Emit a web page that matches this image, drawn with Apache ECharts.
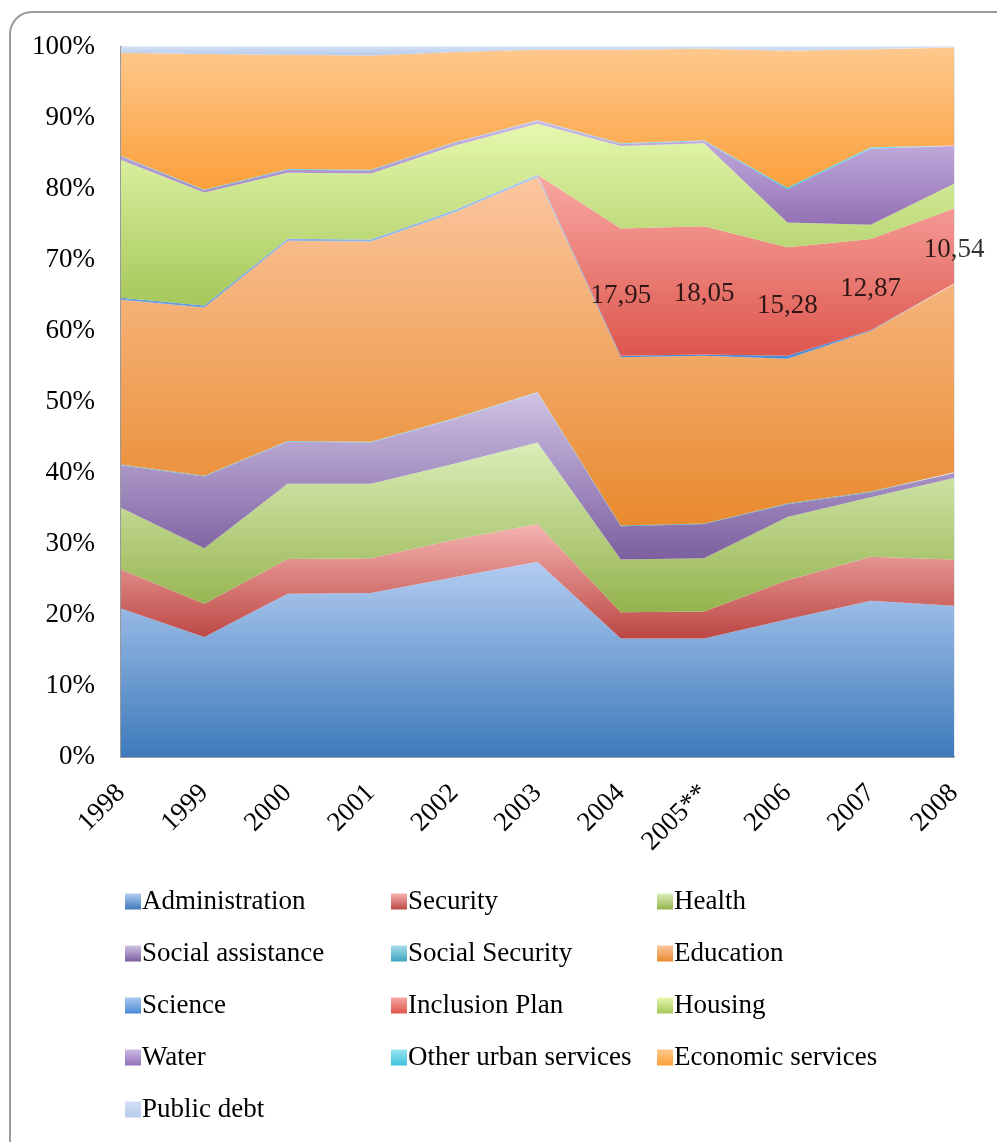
<!DOCTYPE html>
<html>
<head>
<meta charset="utf-8">
<script src="https://cdn.jsdelivr.net/npm/echarts@6/dist/echarts.min.js"></script>
<style>
  html, body { margin: 0; padding: 0; background: #ffffff; }
  #chart { width: 997px; height: 1142px; }
</style>
</head>
<body>
<div id="chart"></div>
<script>
// Budget shares by function, percent of total spending per year
const years = ['1998', '1999', '2000', '2001', '2002', '2003', '2004', '2005**', '2006', '2007', '2008'];

const administration   = [20.9, 16.9, 23.0, 23.1, 25.3, 27.5, 16.7, 16.7, 19.4, 22.0, 21.3];
const security         = [5.5, 4.7, 4.9, 4.9, 5.3, 5.3, 3.7, 3.8, 5.5, 6.2, 6.5];
const health           = [8.7, 7.8, 10.6, 10.5, 10.7, 11.5, 7.4, 7.5, 8.9, 8.4, 11.5];
const socialAssistance = [6.0, 10.1, 5.9, 5.8, 6.3, 7.0, 4.7, 4.8, 1.8, 0.7, 0.7];
const socialSecurity   = [0.1, 0.1, 0.1, 0.1, 0.1, 0.1, 0.1, 0.1, 0.1, 0.1, 0.1];
const education        = [23.2, 23.7, 28.2, 28.2, 29.0, 30.3, 23.7, 23.6, 20.4, 22.6, 26.5];
const science          = [0.3, 0.3, 0.3, 0.3, 0.3, 0.3, 0.2, 0.2, 0.4, 0.1, 0.1];
const inclusionPlan    = [0, 0, 0, 0, 0, 0, 17.95, 18.05, 15.28, 12.87, 10.54];
const housing          = [19.4, 15.9, 9.3, 9.3, 9.1, 7.2, 11.6, 11.7, 3.5, 2.0, 3.5];
const water            = [0.5, 0.3, 0.4, 0.4, 0.4, 0.4, 0.3, 0.3, 4.7, 10.7, 5.3];
const otherUrban       = [0.1, 0.1, 0.1, 0.1, 0.1, 0.1, 0.1, 0.1, 0.2, 0.2, 0.1];
const economicServices = [14.5, 19.1, 16.1, 16.1, 12.7, 9.9, 13.15, 12.9, 19.3, 13.8, 13.76];
const publicDebt       = [0.8, 1.0, 1.1, 1.2, 0.7, 0.4, 0.4, 0.25, 0.52, 0.33, 0.1];

const yTicks = { min: 0, max: 100, interval: 10 };

const FONT = '"Liberation Serif", "DejaVu Serif", serif';

// name, values, gradient top colour, gradient bottom colour
const layers = [
  ['Administration',        administration,   '#B3CCF1', '#3D7ABA'],
  ['Security',              security,         '#F5B3B0', '#BC4744'],
  ['Health',                health,           '#DCEDBA', '#94B34D'],
  ['Social assistance',     socialAssistance, '#CFC2E5', '#7C5F9F'],
  ['Social Security',       socialSecurity,   '#A8DCEA', '#3FA3BD'],
  ['Education',             education,        '#FBC69F', '#E98A2E'],
  ['Science',               science,          '#A8C8F0', '#4A8BD6'],
  ['Inclusion Plan',        inclusionPlan,    '#F8A8A2', '#DE564E'],
  ['Housing',               housing,          '#E6F8AE', '#A5C75A'],
  ['Water',                 water,            '#CCB9E6', '#9271B4'],
  ['Other urban services',  otherUrban,       '#9AE3F2', '#3EC3DD'],
  ['Economic services',     economicServices, '#FEC88D', '#FB9F3A'],
  ['Public debt',           publicDebt,       '#D3E0F5', '#B5CAEC']
];

function grad(top, bottom) {
  return new echarts.graphic.LinearGradient(0, 0, 0, 1, [
    { offset: 0, color: top },
    { offset: 1, color: bottom }
  ]);
}

const areaSeries = layers.map(([name, values, top, bottom]) => ({
  name: name,
  type: 'line',
  stack: 'total',
  data: values,
  symbol: 'none',
  showSymbol: false,
  lineStyle: { width: 0 },
  itemStyle: { color: grad(top, bottom) },
  areaStyle: { color: grad(top, bottom), opacity: 1 },
  emphasis: { disabled: true },
  silent: true
}));

// Value labels for the Inclusion Plan band, placed at the middle of the band
const inclusionIndex = layers.findIndex(l => l[0] === 'Inclusion Plan');
const inclusionLabels = years.map((y, i) => {
  let base = 0;
  for (let k = 0; k < inclusionIndex; k++) base += layers[k][1][i];
  return { value: [y, base + inclusionPlan[i] / 2], raw: inclusionPlan[i] };
}).filter(d => d.raw > 0);

const labelSeries = {
  name: 'labels',
  type: 'scatter',
  data: inclusionLabels,
  symbolSize: 1,
  itemStyle: { color: 'rgba(0,0,0,0)' },
  silent: true,
  z: 10,
  label: {
    show: true,
    position: 'inside',
    offset: [0, 4],
    fontFamily: FONT,
    fontSize: 27,
    color: '#000000',
    formatter: p => p.data.raw.toFixed(2).replace('.', ',')
  }
};

const legendBase = {
  orient: 'vertical',
  icon: 'rect',
  itemWidth: 16,
  itemHeight: 16,
  itemGap: 25,
  top: 883,
  selectedMode: false,
  textStyle: { fontFamily: FONT, fontSize: 27, color: '#000000', padding: [0, 0, 0, -4] }
};

const chart = echarts.init(document.getElementById('chart'), null, { renderer: 'canvas' });
chart.setOption({
  animation: false,
  backgroundColor: '#ffffff',
  graphic: [{
    type: 'rect',
    shape: { x: 10, y: 12, width: 1020, height: 1160, r: 22 },
    style: { fill: 'none', stroke: '#9b9b9b', lineWidth: 2 },
    silent: true,
    z: -10
  }],
  grid: {
    left: 121, right: 43, top: 47, bottom: 385,
    show: true, borderColor: '#cfd6e0', borderWidth: 1, backgroundColor: 'transparent'
  },
  xAxis: {
    type: 'category',
    data: years,
    boundaryGap: false,
    axisLine: { show: true, lineStyle: { color: '#9a9a9a', width: 2 } },
    axisTick: { show: false },
    axisLabel: { rotate: 45, margin: 32, fontFamily: FONT, fontSize: 27, color: '#000000', interval: 0 },
    splitLine: { show: false }
  },
  yAxis: {
    type: 'value',
    min: yTicks.min, max: yTicks.max, interval: yTicks.interval,
    axisLine: { show: true, lineStyle: { color: '#9a9a9a', width: 2 } },
    axisTick: { show: false },
    axisLabel: { margin: 26, fontFamily: FONT, fontSize: 27, color: '#000000', formatter: '{value}%' },
    splitLine: { show: false }
  },
  legend: [
    Object.assign({}, legendBase, { left: 120, data: ['Administration', 'Social assistance', 'Science', 'Water', 'Public debt'] }),
    Object.assign({}, legendBase, { left: 386, data: ['Security', 'Social Security', 'Inclusion Plan', 'Other urban services'] }),
    Object.assign({}, legendBase, { left: 652, data: ['Health', 'Education', 'Housing', 'Economic services'] })
  ],
  series: areaSeries.concat([labelSeries])
});
</script>
</body>
</html>
